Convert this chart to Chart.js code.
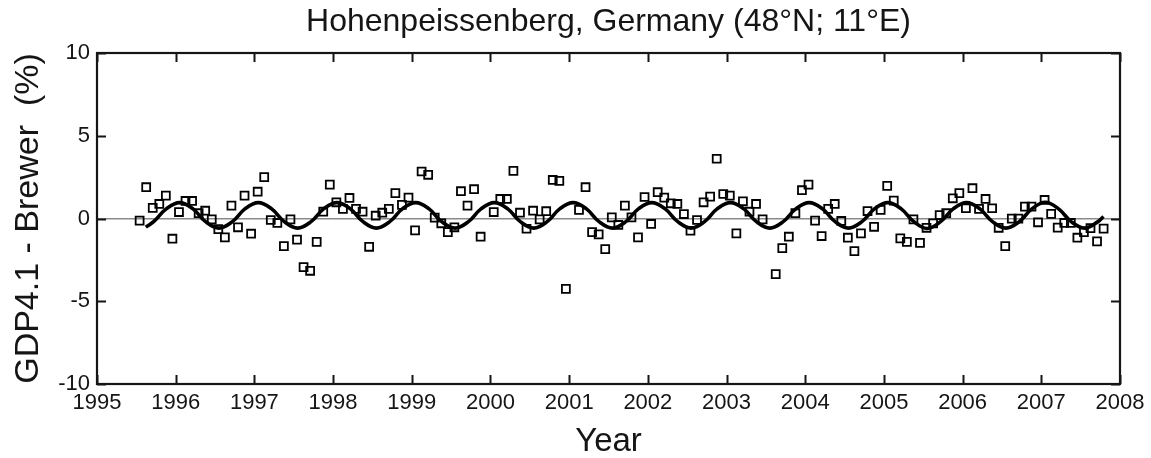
<!DOCTYPE html>
<html>
<head>
<meta charset="utf-8">
<script src="https://cdn.jsdelivr.net/npm/chart.js@4/dist/chart.umd.min.js"></script>
<style>
  html, body { margin: 0; padding: 0; background: #fff; }
  #wrap { width: 1151px; height: 458px; position: relative; }
</style>
</head>
<body>
<div id="wrap"><canvas id="c" width="1151" height="458"></canvas></div>
<script>
// ---- Data ----
const chartTitle = 'Hohenpeissenberg, Germany (48°N; 11°E)';
const yAxisTitle = 'GDP4.1 - Brewer  (%)';
const xAxisTitle = 'Year';
const xTickYears = [1995,1996,1997,1998,1999,2000,2001,2002,2003,2004,2005,2006,2007,2008];
const yTickValues = [-10,-5,0,5,10];

// Monthly differences, first value = July 1995 (null = not visible)
const firstYear = 1995;
const firstMonth = 7;
const monthlyDiff = [
  -0.13, 1.89, 0.64, 0.88, 1.38, -1.22,                       // 1995 Jul-Dec
  0.39, 1.06, 1.06, 0.32, 0.47, -0.05, -0.64, -1.14, 0.78, -0.53, 1.38, -0.92, // 1996
  1.62, 2.50, -0.09, -0.27, -1.67, -0.05, -1.28, -2.94, -3.16, -1.41, 0.41, 2.05, // 1997
  0.98, 0.58, 1.24, 0.58, 0.41, -1.71, 0.17, 0.35, 0.58, 1.53, 0.82, 1.26,  // 1998
  -0.72, 2.84, 2.64, 0.05, -0.29, -0.82, -0.53, 1.65, 0.78, 1.77, -1.10, null, // 1999
  0.39, 1.18, 1.18, 2.88, 0.35, -0.62, 0.47, -0.05, 0.44, 2.33, 2.27, -4.25, // 2000
  null, 0.52, 1.89, -0.82, -0.96, -1.85, 0.07, -0.39, 0.78, 0.07, -1.14, 1.30, // 2001
  -0.33, 1.59, 1.26, 0.92, 0.88, 0.27, -0.74, -0.09, 0.98, 1.32, 3.61, 1.48, // 2002
  1.38, -0.90, 1.04, 0.41, 0.88, -0.05, null, -3.36, -1.79, -1.10, 0.32, 1.71, // 2003
  2.05, -0.13, -1.06, 0.58, 0.88, -0.15, -1.16, -1.97, -0.90, 0.45, -0.50, 0.52, // 2004
  1.97, 1.08, -1.20, -1.41, -0.05, -1.47, -0.56, -0.29, 0.21, 0.32, 1.22, 1.53, // 2005
  0.62, 1.83, 0.58, 1.18, 0.62, -0.56, -1.67, -0.01, -0.01, 0.72, 0.72, -0.23, // 2006
  1.12, 0.28, -0.55, -0.27, -0.27, -1.16, -0.83, -0.58, -1.38, -0.61          // 2007 Jan-Oct
];

// Seasonal fit curve, read at points along the line
const curveYears = [
  1995.62, 1995.72, 1995.88,
  1996.05, 1996.22, 1996.38, 1996.55, 1996.72, 1996.88,
  1997.05, 1997.22, 1997.38, 1997.55, 1997.72, 1997.88,
  1998.05, 1998.22, 1998.38, 1998.55, 1998.72, 1998.88,
  1999.05, 1999.22, 1999.38, 1999.55, 1999.72, 1999.88,
  2000.05, 2000.22, 2000.38, 2000.55, 2000.72, 2000.88,
  2001.05, 2001.22, 2001.38, 2001.55, 2001.72, 2001.88,
  2002.05, 2002.22, 2002.38, 2002.55, 2002.72, 2002.88,
  2003.05, 2003.22, 2003.38, 2003.55, 2003.72, 2003.88,
  2004.05, 2004.22, 2004.38, 2004.55, 2004.72, 2004.88,
  2005.05, 2005.22, 2005.38, 2005.55, 2005.72, 2005.88,
  2006.05, 2006.22, 2006.38, 2006.55, 2006.72, 2006.88,
  2007.05, 2007.22, 2007.38, 2007.55, 2007.72, 2007.79
];
const curveValues = [
  -0.52, -0.19, 0.58,
  0.96, 0.58, -0.19, -0.58, -0.19, 0.58,
  0.96, 0.58, -0.19, -0.58, -0.19, 0.58,
  0.96, 0.58, -0.19, -0.58, -0.19, 0.58,
  0.96, 0.58, -0.19, -0.58, -0.19, 0.58,
  0.96, 0.58, -0.19, -0.58, -0.19, 0.58,
  0.96, 0.58, -0.19, -0.58, -0.19, 0.58,
  0.96, 0.58, -0.19, -0.58, -0.19, 0.58,
  0.96, 0.58, -0.19, -0.58, -0.19, 0.58,
  0.96, 0.58, -0.19, -0.58, -0.19, 0.58,
  0.96, 0.58, -0.19, -0.60, -0.19, 0.58,
  0.96, 0.58, -0.19, -0.58, -0.19, 0.58,
  0.98, 0.58, -0.19, -0.58, -0.19, 0.12
];

// ---- Build datasets ----
const scatterPoints = [];
monthlyDiff.forEach((v, i) => {
  if (v === null) return;
  const monthIndex = (firstMonth - 1) + i;           // months since Jan of firstYear
  scatterPoints.push({ x: firstYear + (monthIndex + 0.5) / 12, y: v });
});
const curvePoints = curveYears.map((t, i) => ({ x: t, y: curveValues[i] }));

const FONT = "'Liberation Sans', Arial, Helvetica, sans-serif";
const INK = '#151515';

const frameAndTicks = {
  id: 'frameAndTicks',
  afterDraw(chart) {
    const { ctx, chartArea: a, scales: { x, y } } = chart;
    const L = 9;
    ctx.save();
    ctx.strokeStyle = INK;
    ctx.lineWidth = 2;
    ctx.beginPath();
    xTickYears.forEach(v => {
      const px = Math.round(x.getPixelForValue(v)) + 0.5;
      ctx.moveTo(px, a.bottom); ctx.lineTo(px, a.bottom - L);
      ctx.moveTo(px, a.top); ctx.lineTo(px, a.top + L);
    });
    yTickValues.forEach(v => {
      const py = Math.round(y.getPixelForValue(v)) + 0.5;
      ctx.moveTo(a.left, py); ctx.lineTo(a.left + L, py);
      ctx.moveTo(a.right, py); ctx.lineTo(a.right - L, py);
    });
    ctx.stroke();
    ctx.lineWidth = 2.2;
    ctx.strokeRect(a.left, a.top, a.right - a.left, a.bottom - a.top);
    ctx.restore();
  }
};

new Chart(document.getElementById('c'), {
  type: 'scatter',
  data: {
    datasets: [
      {
        label: 'fit',
        type: 'line',
        data: curvePoints,
        borderColor: '#000',
        borderWidth: 3.6,
        pointRadius: 0,
        tension: 0.4,
        fill: false,
        order: 0
      },
      {
        label: 'GDP4.1 - Brewer',
        data: scatterPoints,
        pointStyle: 'rect',
        pointRadius: 5.6,
        pointBorderWidth: 1.8,
        pointBorderColor: '#000',
        pointBackgroundColor: 'rgba(255,255,255,0)',
        order: 1
      }
    ]
  },
  options: {
    responsive: false,
    animation: false,
    devicePixelRatio: 1,
    layout: { padding: { left: 0, right: 31, top: 0, bottom: 0 } },
    plugins: {
      legend: { display: false },
      tooltip: { enabled: false },
      title: {
        display: true,
        text: chartTitle,
        fullSize: false,
        color: INK,
        font: { family: FONT, size: 32, weight: 'normal', lineHeight: 1.2 },
        padding: { top: 3, bottom: 11.6 }
      }
    },
    scales: {
      x: {
        type: 'linear',
        min: 1995, max: 2008,
        afterFit: s => { s.height = 74; },
        afterBuildTicks: s => { s.ticks = xTickYears.map(v => ({ value: v })); },
        ticks: {
          color: INK,
          font: { family: FONT, size: 22 },
          padding: 6,
          maxRotation: 0,
          autoSkip: false,
          callback: v => String(v)
        },
        grid: { display: false, drawTicks: false },
        border: { display: false },
        title: {
          display: true, text: xAxisTitle, color: INK,
          font: { family: FONT, size: 33, lineHeight: 1 },
          padding: { top: 0, bottom: 0 }
        }
      },
      y: {
        type: 'linear',
        min: -10, max: 10,
        afterFit: s => { s.width = 97; },
        afterBuildTicks: s => { s.ticks = yTickValues.map(v => ({ value: v })); },
        ticks: {
          color: INK,
          font: { family: FONT, size: 22 },
          padding: 7,
          callback: v => String(v)
        },
        grid: {
          drawTicks: false,
          color: c => (c.tick && c.tick.value === 0) ? '#8a8a8a' : 'rgba(0,0,0,0)',
          lineWidth: 1.5
        },
        border: { display: false },
        title: {
          display: true, text: yAxisTitle, color: INK,
          font: { family: FONT, size: 34, lineHeight: 1 },
          padding: { top: 12, bottom: 0 }
        }
      }
    }
  },
  plugins: [frameAndTicks]
});
</script>
</body>
</html>
